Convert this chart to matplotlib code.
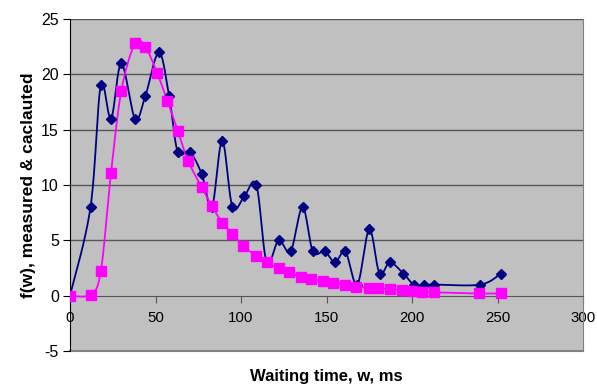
import numpy as np
import matplotlib
matplotlib.use('Agg')
import matplotlib.pyplot as plt

# measured f(w)
w_meas = [0, 12, 18, 24, 30, 38, 44, 52, 58, 63, 70, 77, 83, 89, 95, 102, 109,
          115, 122, 129, 136, 142, 149, 155, 161, 168, 175, 181, 187, 195, 201,
          207, 213, 240, 252]
f_meas = [0, 8, 19, 16, 21, 16, 18, 22, 18, 13, 13, 11, 8, 14, 8, 9, 10,
          3, 5, 4, 8, 4, 4, 3, 4, 1, 6, 2, 3, 2, 1,
          1, 1, 1, 2]

# calculated f(w)
w_calc = [0, 12, 18, 24, 30, 38, 44, 51, 57, 63, 69, 77, 83, 89, 95, 101, 109,
          115, 122, 128, 135, 141, 148, 154, 161, 167, 175, 180, 187, 194, 200,
          206, 213, 239, 252]
f_calc = [0, 0.1, 2.2, 11.1, 18.5, 22.8, 22.5, 20.1, 17.6, 14.9, 12.2, 9.8, 8.1,
          6.6, 5.6, 4.5, 3.6, 3.0, 2.5, 2.1, 1.7, 1.5, 1.3, 1.1, 0.95, 0.8, 0.7,
          0.65, 0.6, 0.5, 0.4, 0.35, 0.3, 0.2, 0.2]

x_ticks = [0, 50, 100, 150, 200, 250, 300]
y_ticks = [-5, 0, 5, 10, 15, 20, 25]


def smooth(xs, ys, n=20):
    # catmull-rom curve through the points, like excel "smoothed line"
    p = np.column_stack((xs, ys)).astype(float)
    p = np.vstack((p[0], p, p[-1]))
    out = []
    t = np.linspace(0, 1, n, endpoint=False)[:, None]
    for i in range(1, len(p) - 2):
        p0, p1, p2, p3 = p[i - 1], p[i], p[i + 1], p[i + 2]
        c = 0.5 * ((2 * p1) + (-p0 + p2) * t + (2 * p0 - 5 * p1 + 4 * p2 - p3) * t ** 2
                   + (-p0 + 3 * p1 - 3 * p2 + p3) * t ** 3)
        out.append(c)
    out.append(p[-2][None, :])
    out = np.vstack(out)
    return out[:, 0], out[:, 1]


plt.rcParams['font.family'] = ['Liberation Sans', 'DejaVu Sans']
plt.rcParams['axes.unicode_minus'] = False
fig = plt.figure(figsize=(5.97, 3.92), dpi=100)
ax = fig.add_axes([70 / 597, 1 - 351 / 392, 513 / 597, 332 / 392])
ax.set_facecolor('#c0c0c0')

for yv in y_ticks[2:]:
    ax.axhline(yv, color='#555555', lw=1, zorder=1)

sx, sy = smooth(w_meas, f_meas)
ax.plot(sx, sy, color='#000080', lw=1.3, zorder=3)
ax.plot(w_meas, f_meas, 'D', color='#000080', ms=5.5, zorder=4, ls='none')

sx, sy = smooth(w_calc, f_calc)
ax.plot(sx, sy, color='#ff00ff', lw=1.3, zorder=3)
ax.plot(w_calc, f_calc, 's', color='#ff00ff', ms=6.5, zorder=4, ls='none')

ax.set_xlim(0, 300)
ax.set_ylim(-5, 25)
ax.set_xticks(x_ticks)
ax.set_yticks(y_ticks)

ax.spines['bottom'].set_position(('data', 0))
ax.spines['bottom'].set_color('#555555')
ax.spines['left'].set_color('black')
ax.spines['right'].set_color('#808080')
ax.spines['top'].set_visible(False)
ax.axhline(-5, color='#808080', lw=1.5, clip_on=False, zorder=1)

ax.tick_params(axis='x', direction='out', length=5, color='#555555', labelsize=10.8, pad=6)
ax.tick_params(axis='y', direction='out', length=5, color='black', labelsize=11.5, pad=3)

ax.set_ylabel('f(w), measured & caclauted', fontsize=12.5, fontweight='bold', labelpad=4)
fig.text(326 / 597, 1 - 376 / 392, 'Waiting time, w, ms', fontsize=12, fontweight='bold',
         ha='center', va='center')

fig.savefig('out.png', dpi=100)
